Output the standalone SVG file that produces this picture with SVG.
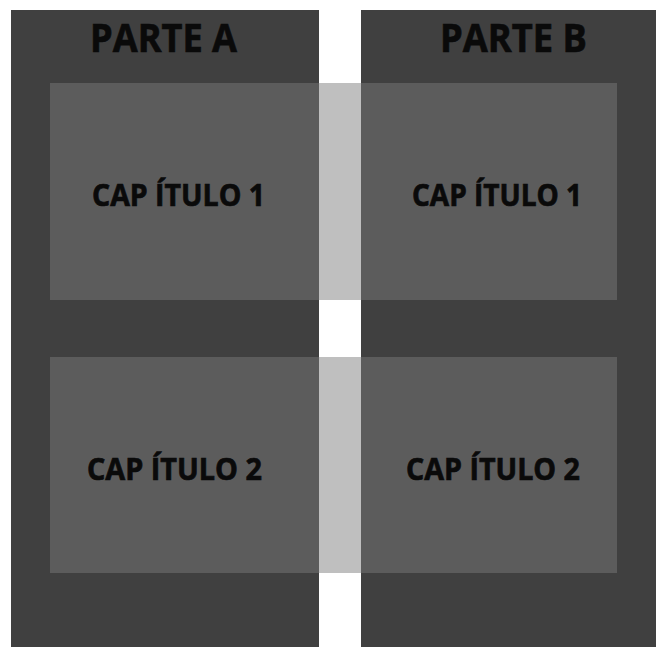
<svg xmlns="http://www.w3.org/2000/svg" width="657" height="647" viewBox="0 0 657 647">
<style>
.col{fill:#404040}
.box{fill:#5c5c5c}
.gap{fill:#bfbfbf}
.t{font-family:"Open Sans","Noto Sans",sans-serif;font-weight:bold;fill:#0a0a0a;stroke:#0a0a0a;stroke-width:0.7px}
.h{font-size:39px}
.c{font-size:31px}
</style>
<rect x="0" y="0" width="657" height="647" fill="#ffffff"/>
<g id="parte-a">
<rect class="col" x="11" y="10" width="308" height="637"/>
<text class="t h" x="90" y="52" textLength="147" lengthAdjust="spacingAndGlyphs">PARTE A</text>
</g>
<g id="parte-b">
<rect class="col" x="361" y="10" width="295" height="637"/>
<text class="t h" x="440" y="52" textLength="147" lengthAdjust="spacingAndGlyphs">PARTE B</text>
</g>
<g id="capitulo-1">
<rect class="box" x="50" y="83" width="269" height="217"/>
<rect class="gap" x="319" y="83" width="42" height="217"/>
<rect class="box" x="361" y="83" width="256" height="217"/>
<text class="t c" x="92" y="206" textLength="173" lengthAdjust="spacingAndGlyphs">CAP ÍTULO 1</text>
<text class="t c" x="412" y="206" textLength="170" lengthAdjust="spacingAndGlyphs">CAP ÍTULO 1</text>
</g>
<g id="capitulo-2">
<rect class="box" x="50" y="357" width="269" height="216"/>
<rect class="gap" x="319" y="357" width="42" height="216"/>
<rect class="box" x="361" y="357" width="256" height="216"/>
<text class="t c" x="87" y="480" textLength="175" lengthAdjust="spacingAndGlyphs">CAP ÍTULO 2</text>
<text class="t c" x="406" y="480" textLength="174" lengthAdjust="spacingAndGlyphs">CAP ÍTULO 2</text>
</g>
<g id="connectors"></g>
</svg>
